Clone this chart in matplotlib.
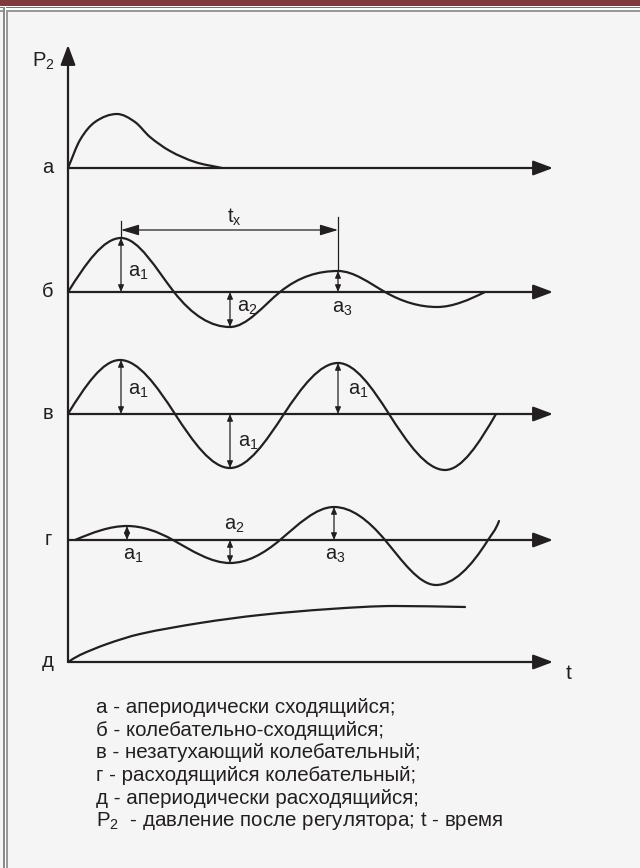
import matplotlib.pyplot as plt
from matplotlib.path import Path
from matplotlib.patches import PathPatch, Rectangle

plt.rcParams['font.family'] = ['Liberation Sans', 'DejaVu Sans']
plt.rcParams['mathtext.fontset'] = 'custom'
plt.rcParams['mathtext.rm'] = 'Liberation Sans'
plt.rcParams['mathtext.it'] = 'Liberation Sans'

INK = '#231f20'
BG = '#f5f5f5'

# rows: label and baseline (pixel y)
row_labels = ['а', 'б', 'в', 'г', 'д']
row_base = [168, 292, 414, 540, 662]
axis_x0 = 68
axis_tip = 553
y_axis_tip = 45

# curves, knots (x, y in pixels)
a_x = [68, 80, 95, 117, 135, 150, 170, 195, 222]
a_y = [168, 140, 122, 114, 122, 137, 151, 162, 168]
b_x = [68, 121, 174, 230, 280, 338, 385, 437, 485]
b_y = [292, 238, 292, 327, 292, 271, 292, 307, 292]
v_x = [68, 120, 175, 230, 284, 338, 389, 445, 496]
v_y = [414, 360, 414, 468, 414, 363, 414, 470, 414]
g_x = [75, 127, 173, 230, 280, 334, 385, 436, 488, 499]
g_y = [540, 526, 540, 563, 540, 507, 540, 585, 540, 521]
d_x = [68, 80, 107, 140, 200, 260, 330, 395, 465]
d_y = [662, 655, 644, 634, 623, 615, 609, 606, 607]

# amplitude markers: x, y_top, y_bottom
amp_marks = [
    (121, 238, 292), (230, 292, 327), (338, 271, 292),
    (121, 360, 414), (230, 414, 468), (338, 363, 414),
    (127, 526, 540), (230, 540, 563), (334, 507, 540),
]
# labels: text, x (left), baseline y
amp_labels = [
    ('a$_1$', 128, 277), ('a$_2$', 237, 312), ('a$_3$', 332, 313),
    ('a$_1$', 128, 395), ('a$_1$', 238, 447), ('a$_1$', 348, 395),
    ('a$_1$', 123, 560), ('a$_2$', 224, 530), ('a$_3$', 325, 560),
]

legend_lines = [
    'а - апериодически сходящийся;',
    'б - колебательно-сходящийся;',
    'в - незатухающий колебательный;',
    'г - расходящийся колебательный;',
    'д - апериодически расходящийся;',
    'P$_2$  - давление после регулятора; t - время',
]


def smooth_path(xs, ys, k):
    n = len(xs)
    s = []
    for i in range(n):
        if i == 0:
            sl = (ys[1] - ys[0]) / (xs[1] - xs[0]) * k
        elif i == n - 1:
            sl = (ys[-1] - ys[-2]) / (xs[-1] - xs[-2]) * k
        else:
            d1 = ys[i] - ys[i - 1]
            d2 = ys[i + 1] - ys[i]
            if d1 * d2 < 0:
                sl = 0.0
            else:
                sl = (ys[i + 1] - ys[i - 1]) / (xs[i + 1] - xs[i - 1]) * k
        s.append(sl)
    verts = [(xs[0], ys[0])]
    codes = [Path.MOVETO]
    for i in range(n - 1):
        dx = (xs[i + 1] - xs[i]) / 3
        verts += [(xs[i] + dx, ys[i] + s[i] * dx),
                  (xs[i + 1] - dx, ys[i + 1] - s[i + 1] * dx),
                  (xs[i + 1], ys[i + 1])]
        codes += [Path.CURVE4] * 3
    return Path(verts, codes)


fig = plt.figure(figsize=(6.4, 8.68), dpi=100)
fig.patch.set_facecolor(BG)
ax = fig.add_axes([0, 0, 1, 1])
ax.set_xlim(0, 640)
ax.set_ylim(868, 0)
ax.axis('off')

# frame
ax.add_patch(Rectangle((0, 0), 640, 6, color='#7f3b3b', lw=0))
ax.add_patch(Rectangle((0, 6), 640, 1, color='white', lw=0))
ax.add_patch(Rectangle((0, 7), 640, 1.2, color='#777777', lw=0))
ax.add_patch(Rectangle((0, 8.2), 640, 1.6, color='white', lw=0))
ax.add_patch(Rectangle((0, 9.8), 640, 2.2, color='#9a9a9a', lw=0))
ax.add_patch(Rectangle((3.3, 7), 1.5, 861, color='#8a8a8a', lw=0))
ax.add_patch(Rectangle((4.8, 7), 1.2, 861, color='white', lw=0))
ax.add_patch(Rectangle((6, 9.8), 2, 858, color='#9a9a9a', lw=0))

# axes
ax.annotate('', xy=(axis_x0, y_axis_tip), xytext=(axis_x0, row_base[-1]),
            arrowprops=dict(arrowstyle='-|>,head_length=1.2,head_width=0.45',
                            lw=1.6, color=INK, shrinkA=0, shrinkB=0))
for lab, yb in zip(row_labels, row_base):
    ax.annotate('', xy=(axis_tip, yb), xytext=(axis_x0, yb),
                arrowprops=dict(arrowstyle='-|>,head_length=1.2,head_width=0.45',
                                lw=1.6, color=INK, shrinkA=0, shrinkB=0))
    ax.text(48, yb + 5, lab, ha='center', va='baseline', fontsize=14.5, color=INK)

ax.text(32, 67, 'P$_2$', ha='left', va='baseline', fontsize=14.5, color=INK)
ax.text(566, 679, 't', ha='left', va='baseline', fontsize=15, color=INK)

# curves
for xs, ys, k in [(a_x, a_y, 1.0), (b_x, b_y, 1.57), (v_x, v_y, 1.57),
                  (g_x, g_y, 1.57), (d_x, d_y, 1.0)]:
    ax.add_patch(PathPatch(smooth_path(xs, ys, k), fill=False, lw=1.6,
                           edgecolor=INK, capstyle='round'))

# amplitude markers
for x, y0, y1 in amp_marks:
    ax.annotate('', xy=(x, y0), xytext=(x, y1),
                arrowprops=dict(arrowstyle='<|-|>,head_length=0.4,head_width=0.17',
                                lw=0.9, color=INK, shrinkA=0, shrinkB=0))
for txt, x, y in amp_labels:
    ax.text(x, y, txt, ha='left', va='baseline', fontsize=14.5, color=INK)

# period t_x
ax.plot([121, 121], [221, 238], color=INK, lw=0.9)
ax.plot([338, 338], [217, 271], color=INK, lw=0.9)
ax.annotate('', xy=(121, 230), xytext=(338, 230),
            arrowprops=dict(arrowstyle='<|-|>,head_length=1.1,head_width=0.33',
                            lw=0.9, color=INK, shrinkA=0, shrinkB=0))
ax.text(227, 223, 't$_\\mathrm{x}$', ha='left', va='baseline', fontsize=14.5, color=INK)

# legend
for i, line in enumerate(legend_lines):
    ax.text(96, 713 + i * 22.7, line, ha='left', va='baseline', fontsize=14.8, color=INK)

fig.savefig('out.png', dpi=100, facecolor=BG)
